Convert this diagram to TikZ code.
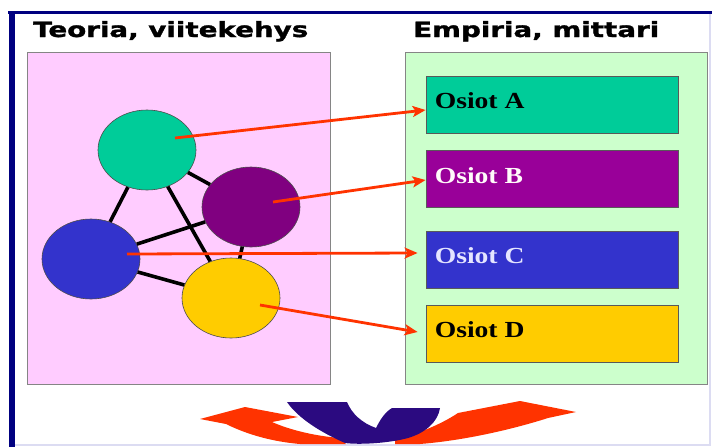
\documentclass[tikz,border=0pt]{standalone}
\usepackage{fontspec}
\setmainfont{Liberation Serif}
\newfontfamily\headfont{DejaVu Sans}[BoldFeatures={FakeBold=1.2}]
\usetikzlibrary{arrows.meta,shapes.geometric}

\definecolor{framenavy}{HTML}{000080}
\definecolor{framelight}{HTML}{DCDCF2}
\definecolor{pinkbg}{HTML}{FFCCFF}
\definecolor{greenbg}{HTML}{CCFFCC}
\definecolor{panelline}{HTML}{858585}
\definecolor{cteal}{HTML}{00CC99}
\definecolor{cplum}{HTML}{800080}
\definecolor{bplum}{HTML}{990099}
\definecolor{cblue}{HTML}{3333CC}
\definecolor{cgold}{HTML}{FFCC00}
\definecolor{arrowred}{HTML}{FF3300}
\definecolor{ornnavy}{HTML}{2B0A80}

\tikzset{
  panel/.style={draw=panelline, line width=1.4pt, anchor=north west, inner sep=0pt},
  heading/.style={anchor=base west, inner sep=0pt, font=\headfont\bfseries\fontsize{21}{24}\selectfont},
  concept/.style={ellipse, draw=black!70, line width=0.6pt, inner sep=0pt,
    minimum width=98pt, minimum height=80pt},
  link/.style={line width=3.6pt, black},
  section/.style={draw=black!65, line width=0.8pt, inner sep=0pt,
    minimum width=252pt, minimum height=57pt},
  seclabel/.style={anchor=base west, inner sep=0pt, font=\bfseries\fontsize{23}{26}\selectfont},
  maparrow/.style={arrowred, line width=2.8pt,
    -{Stealth[length=13pt, width=11pt, inset=3pt]}},
}

\begin{document}
\begin{tikzpicture}[x=1pt, y=-1pt]
\useasboundingbox (0,0) rectangle (712,447);
\fill[white] (0,0) rectangle (712,447);

% slide frame
\draw[framelight, line width=1.2pt] (710,12) -- (710,445) -- (12,445);
\draw[framenavy, line width=3pt] (8,12.5) -- (712,12.5);
\draw[framenavy, line width=6pt] (11.5,11) -- (11.5,447);

% headings
\node[heading] (htheory) at (33,37) {\scalebox{1.32}[1]{Teoria, viitekehys}};
\node[heading] (hempiria) at (413,37) {\scalebox{1.32}[1]{Empiria, mittari}};

% panels
\node[panel, fill=pinkbg, minimum width=303pt, minimum height=332pt] (theory) at (27,52) {};
\node[panel, fill=greenbg, minimum width=302pt, minimum height=332pt] (empiria) at (405,52) {};

% concepts
\node[concept, fill=cteal] (ca) at (147,150) {};
\node[concept, fill=cplum] (cb) at (251,207) {};
\node[concept, fill=cblue] (cc) at (91,259) {};
\node[concept, fill=cgold] (cd) at (231,298) {};

% links between concepts
\draw[link] (ca) -- (cc);
\draw[link] (ca) -- (cb);
\draw[link] (ca) -- (cd);
\draw[link] (cc) -- (cb);
\draw[link] (cc) -- (cd);
\draw[link] (cb) -- (cd);

% measurement sections
\node[section, fill=cteal] (sa) at (552,104.5) {};
\node[section, fill=bplum] (sb) at (552,179) {};
\node[section, fill=cblue] (sc) at (552,259.5) {};
\node[section, fill=cgold] (sd) at (552,333.5) {};

\node[seclabel, text=black] (la) at ([xshift=9pt, yshift=-4pt]sa.west) {\scalebox{1.2}[1]{Osiot A}};
\node[seclabel, text=white!92!pink] (lb) at ([xshift=9pt, yshift=-4pt]sb.west) {\scalebox{1.2}[1]{Osiot B}};
\node[seclabel, text=white!90!blue] (lc) at ([xshift=9pt, yshift=-4pt]sc.west) {\scalebox{1.2}[1]{Osiot C}};
\node[seclabel, text=black] (ld) at ([xshift=9pt, yshift=-4pt]sd.west) {\scalebox{1.2}[1]{Osiot D}};

% mapping arrows
\draw[maparrow] ([shift={(28pt,12pt)}]ca.center) -- ([yshift=-5.5pt]sa.west);
\draw[maparrow] ([shift={(22pt,5pt)}]cb.center) -- ([yshift=-1pt]sb.west);
\draw[maparrow] ([shift={(36pt,5pt)}]cc.center) -- ([shift={(-8pt,6.5pt)}]sc.west);
\draw[maparrow] ([shift={(29pt,-7pt)}]cd.center) -- ([shift={(-8pt,1.5pt)}]sd.west);

% interaction ornament: two curved red arrows and a navy bowl
\fill[arrowred] (200,419) -- (245,407) -- (298,417) -- (272,422)
  .. controls (290,430) and (315,436) .. (340,438) -- (346,444) -- (300,444)
  .. controls (265,441) and (240,431) .. (226,424) -- cycle;
\fill[arrowred] (395,439) .. controls (415,435) and (440,425) .. (458,413)
  -- (520,401) -- (576,412) -- (548,418)
  .. controls (520,427) and (470,440) .. (420,444) -- (395,444) -- cycle;
\fill[ornnavy] (287,402) -- (347,402)
  .. controls (352,414) and (362,423) .. (376,428)
  .. controls (380,420) and (385,412) .. (392,408) -- (440,408)
  .. controls (438,422) and (425,433) .. (408,438)
  .. controls (390,443) and (360,445) .. (345,443)
  .. controls (320,432) and (298,418) .. (287,402) -- cycle;
\end{tikzpicture}
\end{document}
